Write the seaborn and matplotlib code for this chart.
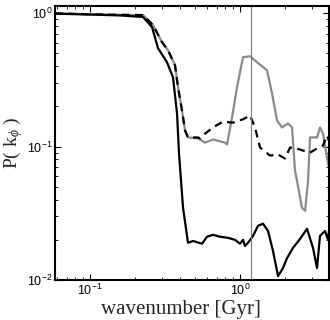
import matplotlib
matplotlib.use("Agg")
import matplotlib.pyplot as plt
import seaborn as sns
import pandas as pd

# wavenumber [Gyr] and P(k_phi)
solid_x = [0.0584, 0.1, 0.16, 0.2256, 0.259, 0.284, 0.326, 0.3575, 0.3802, 0.392,
           0.4169, 0.45, 0.4863, 0.5581, 0.6026, 0.6607, 0.7356, 0.8318, 0.9261, 1.0,
           1.0471, 1.0798, 1.1307, 1.221, 1.3183, 1.4235, 1.5373, 1.6596, 1.7923,
           1.9353, 2.0576, 2.2563, 2.5119, 2.7983, 3.0664, 3.2623, 3.4145, 3.6869,
           3.8612, 3.92]
solid_y = [0.99, 0.975, 0.96, 0.935, 0.785, 0.545, 0.428, 0.330, 0.177, 0.0886,
           0.0348, 0.019, 0.0196, 0.0187, 0.0211, 0.0218, 0.0211, 0.0207, 0.0200, 0.0187,
           0.0200, 0.0180, 0.0190, 0.0214, 0.0255, 0.0264, 0.0233, 0.0165, 0.0107,
           0.0123, 0.0146, 0.0174, 0.0203, 0.0242, 0.0174, 0.0123, 0.0214, 0.0233,
           0.0200, 0.0233]

dashed_x = [0.0584, 0.1, 0.16, 0.2256, 0.263, 0.302, 0.3311, 0.3687, 0.386, 0.4105,
            0.4299, 0.45, 0.5248, 0.5412, 0.5843, 0.6607, 0.7703, 0.8984, 1.0471,
            1.1659, 1.2589, 1.3594, 1.5849, 1.7923, 1.9953, 2.1544, 2.3988, 2.6303,
            2.9286, 3.2623, 3.5744, 3.8019, 3.92]
dashed_y = [0.995, 0.98, 0.97, 0.966, 0.812, 0.605, 0.527, 0.406, 0.278, 0.186,
            0.132, 0.117, 0.117, 0.115, 0.125, 0.139, 0.154, 0.151, 0.160,
            0.171, 0.139, 0.0983, 0.0856, 0.0871, 0.0813, 0.0983, 0.0966, 0.0933,
            0.0901, 0.0966, 0.1018, 0.121, 0.110]

gray_x = [0.0584, 0.1, 0.16, 0.2256, 0.263, 0.302, 0.3311, 0.3687, 0.386, 0.4105,
          0.4299, 0.45, 0.5248, 0.5843, 0.6607, 0.7943, 0.8192, 0.8845, 0.955,
          1.0471, 1.1659, 1.2982, 1.5136, 1.6343, 1.7646, 1.9055, 2.0893, 2.2215,
          2.3263, 2.3988, 2.59, 2.7144, 2.8417, 2.9286, 3.2623, 3.4145, 3.5744,
          3.8019, 3.92]
gray_y = [0.995, 0.98, 0.97, 0.966, 0.812, 0.605, 0.527, 0.406, 0.278, 0.186,
          0.132, 0.117, 0.115, 0.107, 0.113, 0.107, 0.1035, 0.165, 0.278,
          0.467, 0.475, 0.428, 0.373, 0.250, 0.157, 0.139, 0.149, 0.139,
          0.066, 0.0555, 0.0348, 0.033, 0.0555, 0.117, 0.117, 0.139, 0.125,
          0.0827, 0.0695]

marker_x = 1.18
xlim = (0.0584, 3.92)
ylim = (0.01, 1.13)

sns.set_theme(style="ticks")
plt.rcParams["font.family"] = ["Liberation Sans", "DejaVu Sans"]
plt.rcParams["mathtext.fontset"] = "custom"
plt.rcParams["mathtext.rm"] = "Liberation Serif"
plt.rcParams["mathtext.it"] = "Liberation Serif:italic"

fig = plt.figure(figsize=(3.3, 3.2), dpi=100)
ax = fig.add_axes([55 / 330, 40 / 320, 274 / 330, 274 / 320])

df_gray = pd.DataFrame({"k": gray_x, "P": gray_y})
df_dash = pd.DataFrame({"k": dashed_x, "P": dashed_y})
df_solid = pd.DataFrame({"k": solid_x, "P": solid_y})

sns.lineplot(data=df_gray, x="k", y="P", ax=ax, color="#8a8a8a", linewidth=1.6,
             estimator=None, sort=False)
sns.lineplot(data=df_dash, x="k", y="P", ax=ax, color="black", linewidth=1.6,
             dashes=False, estimator=None, sort=False)
ax.lines[-1].set_dashes((3.5, 2.5))
sns.lineplot(data=df_solid, x="k", y="P", ax=ax, color="black", linewidth=1.6,
             estimator=None, sort=False)
ax.axvline(marker_x, color="#777777", linewidth=0.8)

ax.set_xscale("log")
ax.set_yscale("log")
ax.set_xlim(*xlim)
ax.set_ylim(*ylim)

for s in ax.spines.values():
    s.set_linewidth(1.5)
    s.set_color("black")
ax.tick_params(which="both", direction="in", top=True, right=True,
               labelsize=9, colors="black", pad=2)
ax.tick_params(which="major", length=4, width=0.8)
ax.tick_params(which="minor", length=2, width=0.6)

ax.set_xlabel("wavenumber [Gyr]", fontfamily="Liberation Serif", fontsize=15)
ax.set_ylabel("P( k$_{\\phi}$ )", fontfamily="Liberation Serif", fontsize=14)
ax.xaxis.set_label_coords(0.46, -0.072)
ax.yaxis.set_label_coords(-0.11, 0.5)

fig.savefig("out.png", dpi=100)
